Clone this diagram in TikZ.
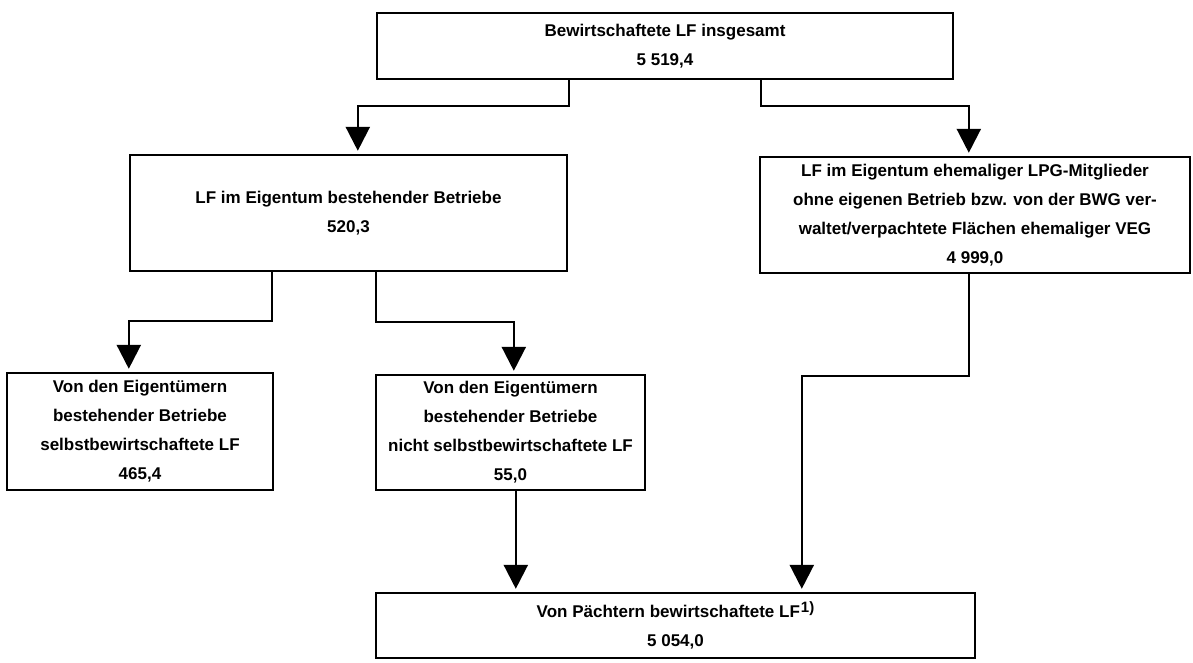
\documentclass[tikz,border=0pt]{standalone}
\usepackage{fontspec}
\setmainfont{Liberation Sans}
\usetikzlibrary{arrows.meta}
\begin{document}
\begin{tikzpicture}[x=1pt,y=-1pt,
  box/.style={draw=black, line width=2.4pt, rectangle, inner sep=0pt, align=center,
    font=\fontsize{17}{29}\selectfont\bfseries},
  conn/.style={draw=black, line width=2.4pt},
  arr/.style={conn, -{Triangle[width=24pt,length=24pt]}, shorten >=3pt}]
\useasboundingbox (0,0) rectangle (1193,662);
\fill[white] (0,0) rectangle (1193,662);

\node[box, minimum width=576pt, minimum height=66pt] (A) at (665,46)
  {Bewirtschaftete LF insgesamt\\5 519,4};
\node[box, minimum width=437pt, minimum height=116pt] (B) at (348.5,213)
  {LF im Eigentum bestehender Betriebe\\520,3};
\node[box, minimum width=430pt, minimum height=116pt] (C) at (975,215)
  {LF im Eigentum ehemaliger LPG-Mitglieder\\ohne eigenen Betrieb bzw. von der BWG ver-\\waltet/verpachtete Flächen ehemaliger VEG\\4 999,0};
\node[box, minimum width=266pt, minimum height=117pt] (D) at (140,431.5)
  {Von den Eigentümern\\bestehender Betriebe\\selbstbewirtschaftete LF\\465,4};
\node[box, minimum width=269pt, minimum height=115pt] (E) at (510.5,432.5)
  {Von den Eigentümern\\bestehender Betriebe\\nicht selbstbewirtschaftete LF\\55,0};
\node[box, minimum width=599pt, minimum height=65pt] (F) at (675.5,625.5)
  {Von Pächtern bewirtschaftete LF\kern1pt\raisebox{5pt}{\fontsize{15}{15}\selectfont 1)}\\5 054,0};

% A -> B
\draw[arr] ([xshift=193pt]A.south west) |- ([xshift=229pt,yshift=48pt]B.north west)
  -- ([xshift=229pt]B.north west);
% A -> C
\draw[arr] ([xshift=-193pt]A.south east) |- ([xshift=210pt,yshift=50pt]C.north west)
  -- ([xshift=210pt]C.north west);
% B -> D
\draw[arr] ([xshift=143pt]B.south west) |- ([xshift=123pt,yshift=51pt]D.north west)
  -- ([xshift=123pt]D.north west);
% B -> E
\draw[arr] ([xshift=247pt]B.south west) |- ([xshift=139pt,yshift=52pt]E.north west)
  -- ([xshift=139pt]E.north west);
% E -> F
\draw[arr] ([xshift=141pt]E.south west) -- ([xshift=141pt]F.north west);
% C -> F
\draw[arr] ([xshift=210pt]C.south west) |- ([xshift=427pt,yshift=216pt]F.north west)
  -- ([xshift=427pt]F.north west);
\end{tikzpicture}
\end{document}
